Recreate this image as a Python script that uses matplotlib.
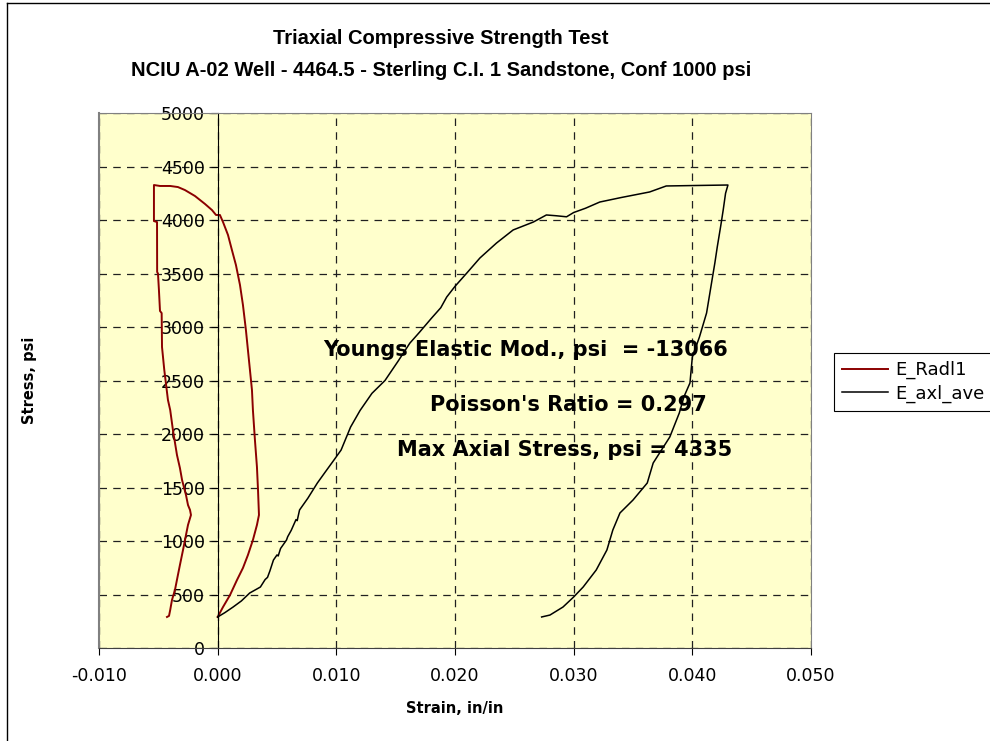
import numpy as np
import matplotlib.pyplot as plt
from matplotlib.lines import Line2D

plt.rcParams['font.family'] = ['DejaVu Sans']

# E_Radl1 (radial strain)
radl_strain = [-0.00427, -0.0041, -0.0040, -0.00385, -0.0036, -0.00335, -0.00318, -0.00292,
               -0.00267, -0.0025, -0.00225, -0.00233, -0.0025, -0.00267, -0.0030, -0.00318,
               -0.00343, -0.00377, -0.0040, -0.00419, -0.00450, -0.00469, -0.00472, -0.00486,
               -0.00495, -0.00503, -0.00510, -0.00511, -0.00537, -0.00537, -0.00486, -0.0040,
               -0.00335, -0.00276, -0.00191, -0.00107, -0.00048, -0.00014, 0.00019, 0.00045,
               0.00087, 0.0012, 0.00154, 0.00188, 0.00213, 0.00238, 0.00255, 0.00272,
               0.00289, 0.00297, 0.00314, 0.00331, 0.0034, 0.00348, 0.00331, 0.00297,
               0.00255, 0.00213, 0.00163, 0.00104, 0.00045, 0.0]
radl_stress = [290, 300, 355, 449, 542, 682, 776, 916,
               1056, 1150, 1243, 1290, 1336, 1430, 1570, 1682,
               1804, 2037, 2224, 2318, 2600, 2813, 3130, 3150,
               3346, 3500, 3514, 3981, 3990, 4327, 4318, 4318,
               4308, 4280, 4224, 4150, 4093, 4047, 4047, 3981,
               3860, 3720, 3579, 3393, 3206, 2972, 2785, 2598,
               2411, 2224, 1944, 1692, 1477, 1243, 1150, 1009,
               869, 748, 636, 495, 383, 290]

# E_axl_ave (average axial strain)
axl_strain = [0.0, 0.0006, 0.0013, 0.0020, 0.0027, 0.0032, 0.0036, 0.0040, 0.0042, 0.0044,
              0.0047, 0.0050, 0.0051, 0.0053, 0.0058, 0.0059, 0.0062, 0.0066, 0.0067, 0.0069,
              0.0076, 0.0084, 0.0091, 0.0098, 0.0104, 0.0112, 0.0120, 0.0130, 0.0141, 0.0152,
              0.0162, 0.0170, 0.0180, 0.0188, 0.0193, 0.0200, 0.0210, 0.0221, 0.0235, 0.0249,
              0.0266, 0.0277, 0.0285, 0.0294, 0.0300, 0.0310, 0.0322, 0.0340, 0.0364, 0.0378,
              0.0400, 0.0430,
              0.0428, 0.0426, 0.0424, 0.0421, 0.0419, 0.0417, 0.0412, 0.0406, 0.0400, 0.0398,
              0.0393, 0.0389, 0.0381, 0.0367, 0.0362, 0.0350, 0.0339, 0.0333, 0.0328, 0.0319,
              0.0308, 0.0300, 0.0291, 0.0280, 0.0273]
axl_stress = [290, 330, 383, 440, 514, 545, 570, 640, 660, 720,
              822, 870, 860, 930, 1009, 1040, 1100, 1200, 1190, 1290,
              1400, 1542, 1650, 1757, 1850, 2065, 2220, 2380, 2500, 2680,
              2850, 2950, 3080, 3180, 3280, 3380, 3505, 3645, 3785, 3907,
              3981, 4047, 4040, 4030, 4070, 4110, 4168, 4210, 4262, 4318,
              4322, 4327,
              4250, 4093, 3950, 3748, 3600, 3467, 3131, 2907, 2720, 2477,
              2350, 2196, 1972, 1729, 1542, 1383, 1262, 1103, 916, 729,
              570, 477, 383, 308, 290]

x_ticks = [-0.010, 0.000, 0.010, 0.020, 0.030, 0.040, 0.050]
y_ticks = [0, 500, 1000, 1500, 2000, 2500, 3000, 3500, 4000, 4500, 5000]

fig = plt.figure(figsize=(9.9, 7.41), dpi=100)
ax = fig.add_axes([0.1, 0.1255, 0.7192, 0.722])
ax.set_facecolor('#FFFFCC')

ax.plot(radl_strain, radl_stress, color='#8B0000', linewidth=1.4, label='E_Radl1')
ax.plot(axl_strain, axl_stress, color='black', linewidth=1.1, label='E_axl_ave')

ax.set_xlim(-0.010, 0.050)
ax.set_ylim(0, 5000)
ax.set_xticks(x_ticks)
ax.set_xticklabels(['%.3f' % v for v in x_ticks])
ax.set_yticks(y_ticks)
ax.grid(True, linestyle=(0, (6, 5)), color='#202020', linewidth=0.9)
ax.set_axisbelow(True)

ax.spines['left'].set_position(('data', 0))
ax.spines['left'].set_color('black')
ax.spines['bottom'].set_color('#404040')
for s in ['top', 'right']:
    ax.spines[s].set_color('#808080')
# gray plot-area border on the left edge
ax.plot([0, 0], [0, 1], transform=ax.transAxes, color='#808080', linewidth=1.5, clip_on=False)

ax.tick_params(axis='x', direction='out', length=5, pad=9, labelsize=12.5)
ax.tick_params(axis='y', direction='out', length=5, pad=4, labelsize=12.5)

ax.set_xlabel('Strain, in/in', fontsize=10.5, fontweight='bold', labelpad=11.5)
fig.text(0.03, 0.487, 'Stress, psi', rotation=90, fontsize=10.5, fontweight='bold',
         ha='center', va='center')

fig.text(441 / 990, 1 - 39 / 741, 'Triaxial Compressive Strength Test', fontsize=14.5,
         fontweight='bold', ha='center', va='center', family='Liberation Sans')
fig.text(441 / 990, 1 - 71 / 741, 'NCIU A-02 Well - 4464.5 - Sterling C.I. 1 Sandstone, Conf 1000 psi',
         fontsize=14.5, fontweight='bold', ha='center', va='center', family='Liberation Sans')

ax.text(0.0430, 2785, 'Youngs Elastic Mod., psi  = -13066', fontsize=15,
        fontweight='bold', ha='right', va='center')
ax.text(0.04124, 2271, "Poisson's Ratio = 0.297", fontsize=15,
        fontweight='bold', ha='right', va='center')
ax.text(0.04333, 1850, 'Max Axial Stress, psi = 4335', fontsize=15,
        fontweight='bold', ha='right', va='center')

leg = fig.legend(loc='upper left', bbox_to_anchor=(834 / 990, 1 - 353 / 741),
                 fontsize=13, frameon=True, fancybox=False, framealpha=1,
                 edgecolor='black', borderpad=0.45, handlelength=2.55,
                 handletextpad=0.4, labelspacing=0.3, borderaxespad=0)
leg.get_frame().set_linewidth(0.8)

# outer chart border (cut off at right and bottom)
fig.add_artist(Line2D([7 / 990, 7 / 990], [0, 1 - 3 / 741], color='black', linewidth=1))
fig.add_artist(Line2D([7 / 990, 1], [1 - 3 / 741, 1 - 3 / 741], color='black', linewidth=1))

fig.savefig('out.png', dpi=100)
